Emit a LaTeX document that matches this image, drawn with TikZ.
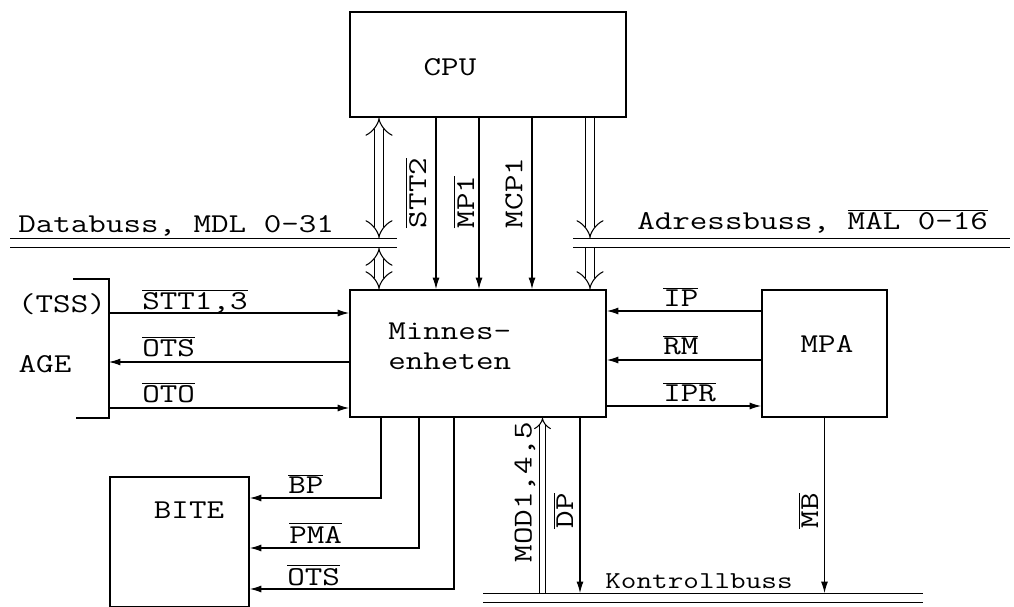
\documentclass[tikz,border=0pt]{standalone}
\usepackage{fontspec}
\setmonofont{Latin Modern Mono}[FakeStretch=1.25]
\usetikzlibrary{arrows.meta}
\newcommand{\act}[1]{$\overline{\mbox{#1}}$}

\begin{document}
\begin{tikzpicture}[
  x=0.02cm, y=-0.02cm,
  >={Latex[length=6.5pt,width=4pt]},
  font=\ttfamily\fontsize{15.5}{17}\selectfont,
  box/.style={draw, line width=1.1pt, inner sep=0pt},
  sig/.style={line width=0.6pt},
  hollow/.style={double, double distance=5pt, line width=0.6pt},
  bus/.style={double, double distance=4.6pt, line width=0.8pt},
  lbl/.style={anchor=base west, inner sep=0pt}
]
\useasboundingbox (0,0) rectangle (1014,607);

% blocks
\node[box, minimum width=5.52cm, minimum height=2.1cm] (cpu) at (488,64.5) {};
\node[box, minimum width=5.12cm, minimum height=2.54cm] (mem) at (478,353.5) {};
\node[box, minimum width=2.5cm, minimum height=2.54cm] (mpa) at (824.5,353.5) {};
\node[box, minimum width=2.78cm, minimum height=2.6cm] (bite) at (179.5,542) {};
\node[anchor=base] (cpu-t) at (450,76) {CPU};
\node[lbl] (mem-t1) at (388,340) {Minnes-};
\node[lbl] (mem-t2) at (388,370) {enheten};
\node[anchor=base] (mpa-t) at (827,353) {MPA};
\node[anchor=base] (bite-t) at (189,519) {BITE};

% AGE
\coordinate (age-t) at (109,279);
\coordinate (age-b) at (109,418);
\draw[line width=1.1pt] (age-t) ++(-36,0) -- (age-t) -- (age-b) -- ++(-33,0);
\node[anchor=base] (tss) at (62,313) {(TSS)};
\node[anchor=base] (age) at (45,373) {AGE};

% buses
\coordinate (db-w) at (10,243);
\coordinate (db-e) at (397,243);
\coordinate (ab-w) at (573,243);
\coordinate (ab-e) at (1010,243);
\coordinate (kb-w) at (483,598);
\coordinate (kb-e) at (923,598);
\draw[bus] (db-w) -- (db-e);
\draw[bus] (ab-w) -- (ab-e);
\draw[bus] (kb-w) -- (kb-e);
\node[lbl] at (18,233) {Databuss, MDL 0-31};
\node[lbl] at (637,230) {Adressbuss, \act{MAL 0-16}};
\node[lbl, font=\ttfamily\fontsize{13.8}{16}\selectfont] at (605,588) {Kontrollbuss};

\coordinate (dbx-t) at (379,238);
\coordinate (dbx-b) at (379,248);
\coordinate (abx-t) at (590,238);
\coordinate (abx-b) at (590,248);
\draw[hollow, {Implies}-{Implies}] (dbx-t |- cpu.south) -- (dbx-t);
\draw[hollow, {Implies}-{Implies}] (dbx-b) -- (dbx-b |- mem.north);
\draw[hollow, -{Implies}] (abx-t |- cpu.south) -- (abx-t);
\draw[hollow, -{Implies}] (abx-b) -- (abx-b |- mem.north);

% CPU -> memory
\coordinate (stt2) at (436,0);
\coordinate (mp1) at (479,0);
\coordinate (mcp1) at (532,0);
\draw[sig,->] (stt2 |- cpu.south) -- (stt2 |- mem.north);
\draw[sig,->] (mp1 |- cpu.south) -- (mp1 |- mem.north);
\draw[sig,->] (mcp1 |- cpu.south) -- (mcp1 |- mem.north);
\node[rotate=90] at (416,193) {\act{STT2}};
\node[rotate=90] at (464,202) {\act{MP1}};
\node[rotate=90] at (514,193) {MCP1};

% AGE <-> memory
\coordinate (stt) at (109,313);
\coordinate (ots) at (109,362);
\coordinate (oto) at (109,408);
\draw[sig,->] (stt) -- (stt -| mem.west);
\draw[sig,->] (ots -| mem.west) -- (ots);
\draw[sig,->] (oto) -- (oto -| mem.west);
\node[lbl] at (142,310) {\act{STT1,3}};
\node[lbl] at (142,357) {\act{OTS}};
\node[lbl] at (142,403) {\act{OTO}};

% MPA <-> memory
\coordinate (ip) at (0,311);
\coordinate (rm) at (0,360);
\coordinate (ipr) at (0,406);
\draw[sig,->] (ip -| mpa.west) -- (ip -| mem.east);
\draw[sig,->] (rm -| mpa.west) -- (rm -| mem.east);
\draw[sig,->] (ipr -| mem.east) -- (ipr -| mpa.west);
\node[lbl] at (663,307) {\act{IP}};
\node[lbl] at (663,355) {\act{RM}};
\node[lbl] at (663,402) {\act{IPR}};

% memory -> BITE
\coordinate (bp) at (381,498);
\coordinate (pma) at (419,548);
\coordinate (ots2) at (454,589);
\draw[sig,->] (bp |- mem.south) |- (bp -| bite.east);
\draw[sig,->] (pma |- mem.south) |- (pma -| bite.east);
\draw[sig,->] (ots2 |- mem.south) |- (ots2 -| bite.east);
\node[lbl] at (288,494) {\act{BP}};
\node[lbl] at (289,543) {\act{PMA}};
\node[lbl] at (287,585) {\act{OTS}};

% control bus
\coordinate (kb-t) at (0,593);
\coordinate (dp) at (580,0);
\coordinate (mod) at (542.5,593);
\draw[hollow, double distance=2.8pt, -{Implies}] (mod) -- (mod |- mem.south);
\draw[sig,->] (dp |- mem.south) -- (dp |- kb-t);
\draw[sig,->] (mpa.south) -- (mpa.south |- kb-t);
\node[rotate=90] at (525,492) {MOD1,4,5};
\node[rotate=90] at (563,511) {\act{DP}};
\node[rotate=90] at (808,511) {\act{MB}};
\end{tikzpicture}
\end{document}
